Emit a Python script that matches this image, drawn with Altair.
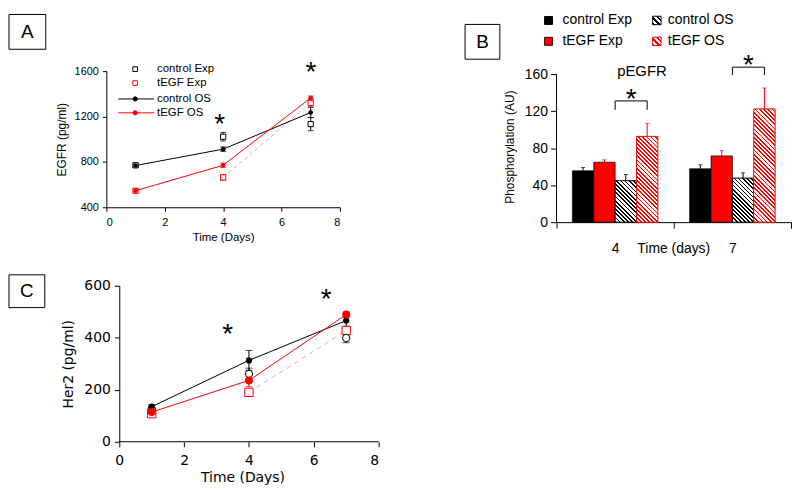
import altair as alt
import pandas as pd

# ---------------- data ----------------
SERIES = ["control Exp", "tEGF Exp", "control OS", "tEGF OS"]

# Panel A : EGFR (pg/ml)
A_DAYS = [1, 4, 7]
A_VAL = {
    "control Exp": [770, 1022, 1133],
    "tEGF Exp": [545, 663, 1320],
    "control OS": [768, 912, 1235],
    "tEGF OS": [546, 770, 1363],
}
A_ERR = {
    "control Exp": [15, 38, 58],
    "tEGF Exp": [14, 25, 36],
    "control OS": [18, 20, 45],
    "tEGF OS": [14, 20, 18],
}
A_DASH_DAYS = [4, 7]
A_STAR_X = [3.88, 7.01]
A_STAR_Y = [1171, 1626]

# Panel B : pEGFR phosphorylation (AU)
B_DAYS = ["4", "7"]
B_VAL = {
    "control Exp": [55.5, 57.6],
    "tEGF Exp": [64.8, 71.6],
    "control OS": [44.8, 47.6],
    "tEGF OS": [92.7, 122.4],
}
B_ERR = {
    "control Exp": [3.6, 4.4],
    "tEGF Exp": [2.5, 5.7],
    "control OS": [6.7, 5.7],
    "tEGF OS": [14.0, 22.6],
}

# Panel C : Her2 (pg/ml)
C_DAYS = [1, 4, 7]
C_VAL = {
    "control Exp": [126, 261, 399],
    "tEGF Exp": [108, 190, 428],
    "control OS": [135, 313, 466],
    "tEGF OS": [114, 236, 489],
}
C_ERR = {
    "control Exp": [6, 22, 18],
    "tEGF Exp": [6, 14, 14],
    "control OS": [8, 38, 22],
    "tEGF OS": [6, 24, 10],
}
C_DASH_DAYS = [4, 7]
C_STAR_X = [3.34, 6.38]
C_STAR_Y = [428, 565]

# ---------------- style ----------------
FA = "Liberation Sans"
FB = "Liberation Sans"
FC = "DejaVu Sans"
RED = "#ff0000"
PINK = "#f3a3a3"
COLORS = ["black", RED, "black", RED]
STAR_SIZE = 28
STAR_DY = 5


def long_df(vals, errs, days, series=SERIES):
    rows = []
    for s in series:
        for d, v, e in zip(days, vals[s], errs[s]):
            rows.append(dict(series=s, day=d, value=v, lo=v - e, hi=v + e))
    return pd.DataFrame(rows)


def one():
    return pd.DataFrame({"k": [0]})


def text_at(t, x, y, size, font, color="black", align="left", baseline="middle", dy=0):
    return alt.Chart(pd.DataFrame({"t": [t]})).mark_text(
        align=align, baseline=baseline, fontSize=size, font=font, color=color, dy=dy
    ).encode(x=alt.value(x), y=alt.value(y), text="t:N")


def rule_at(x, y, x2=None, y2=None, color="black", width=1, dash=None):
    enc = dict(x=alt.value(x), y=alt.value(y))
    if x2 is not None:
        enc["x2"] = alt.value(x2)
    if y2 is not None:
        enc["y2"] = alt.value(y2)
    kw = dict(color=color, strokeWidth=width)
    if dash:
        kw["strokeDash"] = dash
    return alt.Chart(one()).mark_rule(**kw).encode(**enc)


def box_at(x, y, x2, y2):
    return alt.Chart(one()).mark_rect(fill="white", stroke="black", strokeWidth=1).encode(
        x=alt.value(x), x2=alt.value(x2), y=alt.value(y), y2=alt.value(y2)
    )


def sym_at(x, y, shape, size, fill, stroke, sw=1):
    return alt.Chart(one()).mark_point(
        shape=shape, size=size, filled=True, fill=fill, stroke=stroke, strokeWidth=sw, opacity=1
    ).encode(x=alt.value(x), y=alt.value(y))


def hatch(color, W, H, period=4.2, frac=0.42):
    n = max(2, int(round((W + H) / period)))
    stops = []
    for j in range(n):
        a, b, c = j / n, (j + frac) / n, (j + 1) / n
        stops += [
            alt.GradientStop(color=color, offset=a),
            alt.GradientStop(color=color, offset=b),
            alt.GradientStop(color="white", offset=b),
            alt.GradientStop(color="white", offset=c),
        ]
    k = (W + H) / (W * W + H * H)
    return alt.LinearGradient(gradient="linear", stops=stops, x1=0, y1=1, x2=W * k, y2=1 - H * k)


# ======================= Panel A =======================
A_W, A_H = 235, 137
dfA = long_df(A_VAL, A_ERR, A_DAYS)
colA = alt.Scale(domain=SERIES, range=COLORS)
axAx = alt.Axis(values=[0, 2, 4, 6, 8], title="Time (Days)", format="d", tickSize=4,
                labelFont=FA, labelFontSize=11, labelPadding=5, titleFont=FA,
                titleFontSize=11.5, titleFontWeight="normal", titlePadding=4)
axAy = alt.Axis(values=[400, 800, 1200, 1600], title="EGFR (pg/ml)", format="d", tickSize=4,
                labelFont=FA, labelFontSize=11, labelPadding=4, titleFont=FA,
                titleFontSize=12, titleFontWeight="normal", titlePadding=6)
sxA = alt.Scale(domain=[0, 8], nice=False)
syA = alt.Scale(domain=[400, 1600], nice=False, zero=False)


def encA(yf):
    return dict(x=alt.X("day:Q", scale=sxA, axis=axAx),
                y=alt.Y(yf + ":Q", scale=syA, axis=axAy))


colorA = alt.Color("series:N", scale=colA, legend=None)
os_A = dfA[dfA.series.isin(["control OS", "tEGF OS"])]
exp_A = dfA[dfA.series.isin(["control Exp", "tEGF Exp"])]
dashA = dfA[(dfA.series == "tEGF Exp") & (dfA.day.isin(A_DASH_DAYS))]

A_layers = [
    alt.Chart(dashA).mark_line(color=PINK, strokeWidth=1, strokeDash=[4, 3]).encode(**encA("value")),
    alt.Chart(dfA).mark_rule(strokeWidth=1).encode(**encA("lo"), y2="hi:Q", color=colorA),
    alt.Chart(dfA).mark_tick(orient="horizontal", size=6, thickness=1).encode(**encA("lo"), color=colorA),
    alt.Chart(dfA).mark_tick(orient="horizontal", size=6, thickness=1).encode(**encA("hi"), color=colorA),
    alt.Chart(os_A).mark_line(strokeWidth=1).encode(**encA("value"), color=colorA),
    alt.Chart(exp_A).mark_point(shape="square", size=28, filled=True, fill="white", strokeWidth=1, opacity=1)
    .encode(**encA("value"), stroke=alt.Stroke("series:N", scale=colA, legend=None)),
    alt.Chart(os_A).mark_point(shape="circle", size=22, filled=True, opacity=1).encode(**encA("value"), color=colorA),
    alt.Chart(pd.DataFrame({"day": A_STAR_X, "value": A_STAR_Y, "t": ["*", "*"]}))
    .mark_text(fontSize=STAR_SIZE, font=FA, baseline="middle", dy=STAR_DY).encode(**encA("value"), text="t:N"),
    # legend
    sym_at(29, -2, "square", 22, "white", "black"),
    sym_at(29, 12, "square", 22, "white", RED),
    rule_at(12, 28, x2=48, color="black"),
    sym_at(29, 28, "circle", 18, "black", "black"),
    rule_at(12, 42, x2=48, color=RED),
    sym_at(29, 42, "circle", 18, RED, RED),
    text_at("control Exp", 51, -2, 11.5, FA),
    text_at("tEGF Exp", 51, 12, 11.5, FA),
    text_at("control OS", 51, 28, 11.5, FA),
    text_at("tEGF OS", 51, 42, 11.5, FA),
    # panel label
    box_at(-98, -57, -61, -22),
    text_at("A", -79.5, -39.5, 19, FA, align="center"),
]
panelA = alt.layer(*A_layers).properties(width=A_W, height=A_H)

# ======================= Panel B =======================
B_W = 236
B_PX = 149 / 160          # pixels per unit
B_H = 152
B_YMAX = B_H / B_PX
B_PAD = 0.744
BAR_W = (B_W / 2) / (4 + 2 * B_PAD)

rowsB = []
for s in SERIES:
    for d, v, e in zip(B_DAYS, B_VAL[s], B_ERR[s]):
        rowsB.append(dict(series=s, day=d, value=v, hi=v + e))
dfB = pd.DataFrame(rowsB)

axBx = alt.Axis(title=None, labelAngle=0, tickBand="extent", tickSize=6, labelFont=FB,
                labelFontSize=14, labelPadding=14)
axBy = alt.Axis(values=[0, 40, 80, 120, 160], domain=False, tickSize=6, labelFont=FB,
                labelFontSize=14, labelPadding=3, title="Phosphorylation (AU)", titleFont=FB,
                titleFontSize=12, titleFontWeight="normal", titlePadding=8)
sxB = alt.Scale(domain=B_DAYS, paddingInner=0, paddingOuter=0)
soB = alt.Scale(domain=SERIES, paddingInner=0, paddingOuter=B_PAD)
syB = alt.Scale(domain=[0, B_YMAX], nice=False)


def encB(yf):
    return dict(x=alt.X("day:N", scale=sxB, axis=axBx),
                xOffset=alt.XOffset("series:N", scale=soB),
                y=alt.Y(yf + ":Q", scale=syB, axis=axBy))


errcolB = alt.Color("series:N", scale=alt.Scale(domain=SERIES, range=["black", "black", "black", "#f08080"]),
                    legend=None)
solidB = dfB[dfB.series.isin(["control Exp", "tEGF Exp"])]
B_layers = [
    alt.Chart(dfB).mark_rule(strokeWidth=1).encode(**encB("value"), y2="hi:Q", color=errcolB),
    alt.Chart(dfB).mark_tick(orient="horizontal", size=4, thickness=1).encode(**encB("hi"), color=errcolB),
    alt.Chart(solidB).mark_bar(stroke="black", strokeWidth=0.7).encode(
        **encB("value"), fill=alt.Fill("series:N", scale=alt.Scale(domain=SERIES, range=COLORS), legend=None)),
]
for s, col in [("control OS", "black"), ("tEGF OS", RED)]:
    for d, v in zip(B_DAYS, B_VAL[s]):
        sub = dfB[(dfB.series == s) & (dfB.day == d)]
        B_layers.append(
            alt.Chart(sub).mark_bar(fill=hatch(col, BAR_W, v * B_PX), stroke=col, strokeWidth=1)
            .encode(**encB("value"))
        )
# y axis line from 0 to 160
B_layers.append(alt.Chart(pd.DataFrame({"series": ["control Exp"], "day": ["4"], "value": [0], "hi": [160]}))
                .mark_rule(color="black").encode(x=alt.value(0), y=alt.Y("value:Q", scale=syB, axis=axBy), y2="hi:Q"))

# significance brackets and stars
for off, ytop, ybot, sy in [(0, 30, 39, 24), (118, -4, 4, -10)]:
    xl = off + B_PAD * BAR_W + 2 * BAR_W
    xr = off + B_PAD * BAR_W + 3.5 * BAR_W
    B_layers += [
        rule_at(xl, ytop, x2=xr),
        rule_at(xl, ytop, y2=ybot),
        rule_at(xr, ytop, y2=ybot),
        text_at("*", (xl + xr) / 2, sy, STAR_SIZE, FB, align="center", dy=STAR_DY),
    ]
B_layers += [
    text_at("pEGFR", 86, 0, 15, FB, align="center"),
    text_at("Time (days)", 118, 179, 14, FB, align="center"),
    # legend
    sym_at(-8, -51, "square", 64, "black", "black"),
    sym_at(-8, -30, "square", 64, RED, "#400000"),
    alt.Chart(one()).mark_point(shape="square", size=72, filled=True, opacity=1, fill=hatch("black", 8.5, 8.5, 5.5, 0.45),
                                stroke="black", strokeWidth=1).encode(x=alt.value(101), y=alt.value(-51)),
    alt.Chart(one()).mark_point(shape="square", size=72, filled=True, opacity=1, fill=hatch(RED, 8.5, 8.5, 5.5, 0.45),
                                stroke=RED, strokeWidth=1).encode(x=alt.value(101), y=alt.value(-30)),
    text_at("control Exp", 6, -51, 14, FB),
    text_at("tEGF Exp", 6, -30, 14, FB),
    text_at("control OS", 112, -51, 14, FB),
    text_at("tEGF OS", 112, -30, 14, FB),
    box_at(-92, -47, -57, -12),
    text_at("B", -74.5, -29.5, 19, FB, align="center"),
]
panelB = alt.layer(*B_layers).properties(width=B_W, height=B_H)

# ======================= Panel C =======================
C_UNIT = 261 / 8
C_SHIFT = 13
C_W, C_H = 8 * C_UNIT + C_SHIFT, 157
dfC = long_df(C_VAL, C_ERR, C_DAYS)
axCx = alt.Axis(values=[0, 2, 4, 6, 8], domain=False, format="d", title="Time (Days)", tickSize=5,
                labelFont=FC, labelFontSize=14, labelPadding=7, titleFont=FC, titleFontSize=14,
                titleFontWeight="normal", titlePadding=3)
axCy = alt.Axis(values=[0, 200, 400, 600], offset=-C_SHIFT, format="d", title="Her2 (pg/ml)", tickSize=5,
                labelFont=FC, labelFontSize=14, labelPadding=4, titleFont=FC, titleFontSize=14,
                titleFontWeight="normal", titlePadding=8)
sxC = alt.Scale(domain=[-C_SHIFT / C_UNIT, 8], nice=False, zero=False)
syC = alt.Scale(domain=[0, 600], nice=False)


def encC(yf):
    return dict(x=alt.X("day:Q", scale=sxC, axis=axCx),
                y=alt.Y(yf + ":Q", scale=syC, axis=axCy))


os_C = dfC[dfC.series.isin(["control OS", "tEGF OS"])]
dashC = dfC[(dfC.series == "tEGF Exp") & (dfC.day.isin(C_DASH_DAYS))]
strokeC = alt.Stroke("series:N", scale=colA, legend=None)
C_layers = [
    alt.Chart(pd.DataFrame({"day": [0], "day2": [8], "value": [0]})).mark_rule(color="black")
    .encode(**encC("value"), x2="day2:Q"),
    alt.Chart(dashC).mark_line(color=PINK, strokeWidth=1, strokeDash=[5, 4]).encode(**encC("value")),
    alt.Chart(dfC).mark_rule(strokeWidth=1).encode(**encC("lo"), y2="hi:Q", color=colorA),
    alt.Chart(dfC).mark_tick(orient="horizontal", size=7, thickness=1).encode(**encC("lo"), color=colorA),
    alt.Chart(dfC).mark_tick(orient="horizontal", size=7, thickness=1).encode(**encC("hi"), color=colorA),
    alt.Chart(os_C).mark_line(strokeWidth=1).encode(**encC("value"), color=colorA),
    alt.Chart(dfC[dfC.series == "tEGF Exp"]).mark_point(shape="square", size=70, filled=True, fill="white",
                                                        strokeWidth=1, opacity=1)
    .encode(**encC("value"), stroke=strokeC),
    alt.Chart(dfC[dfC.series == "control Exp"]).mark_point(shape="circle", size=55, filled=True, fill="white",
                                                           strokeWidth=1, opacity=1)
    .encode(**encC("value"), stroke=strokeC),
    alt.Chart(os_C[os_C.series == "control OS"]).mark_point(shape="circle", size=40, filled=True, opacity=1)
    .encode(**encC("value"), color=colorA),
    alt.Chart(os_C[os_C.series == "tEGF OS"]).mark_point(shape="circle", size=65, filled=True, opacity=1)
    .encode(**encC("value"), color=colorA),
    alt.Chart(pd.DataFrame({"day": C_STAR_X, "value": C_STAR_Y, "t": ["*", "*"]}))
    .mark_text(fontSize=STAR_SIZE, font=FA, baseline="middle", dy=STAR_DY).encode(**encC("value"), text="t:N"),
    box_at(-98, -11, -62, 22),
    text_at("C", -80, 5.5, 19, FA, align="center"),
]
panelC = alt.layer(*C_layers).properties(width=C_W, height=C_H)

chart = alt.ConcatChart(
    concat=[panelA, panelB, panelC],
    columns=2,
    spacing={"row": 64, "column": 379 - 200},
    bounds="flush",
    align="each",
).properties(
    padding={"left": 0, "top": 4, "right": 0, "bottom": 0}
).configure_view(strokeWidth=0).configure_axis(
    grid=False, domainColor="black", tickColor="black", labelColor="black", titleColor="black",
    domainWidth=1, tickWidth=1
)

chart.save("out.html", embed_options={"renderer": "svg", "actions": False})
